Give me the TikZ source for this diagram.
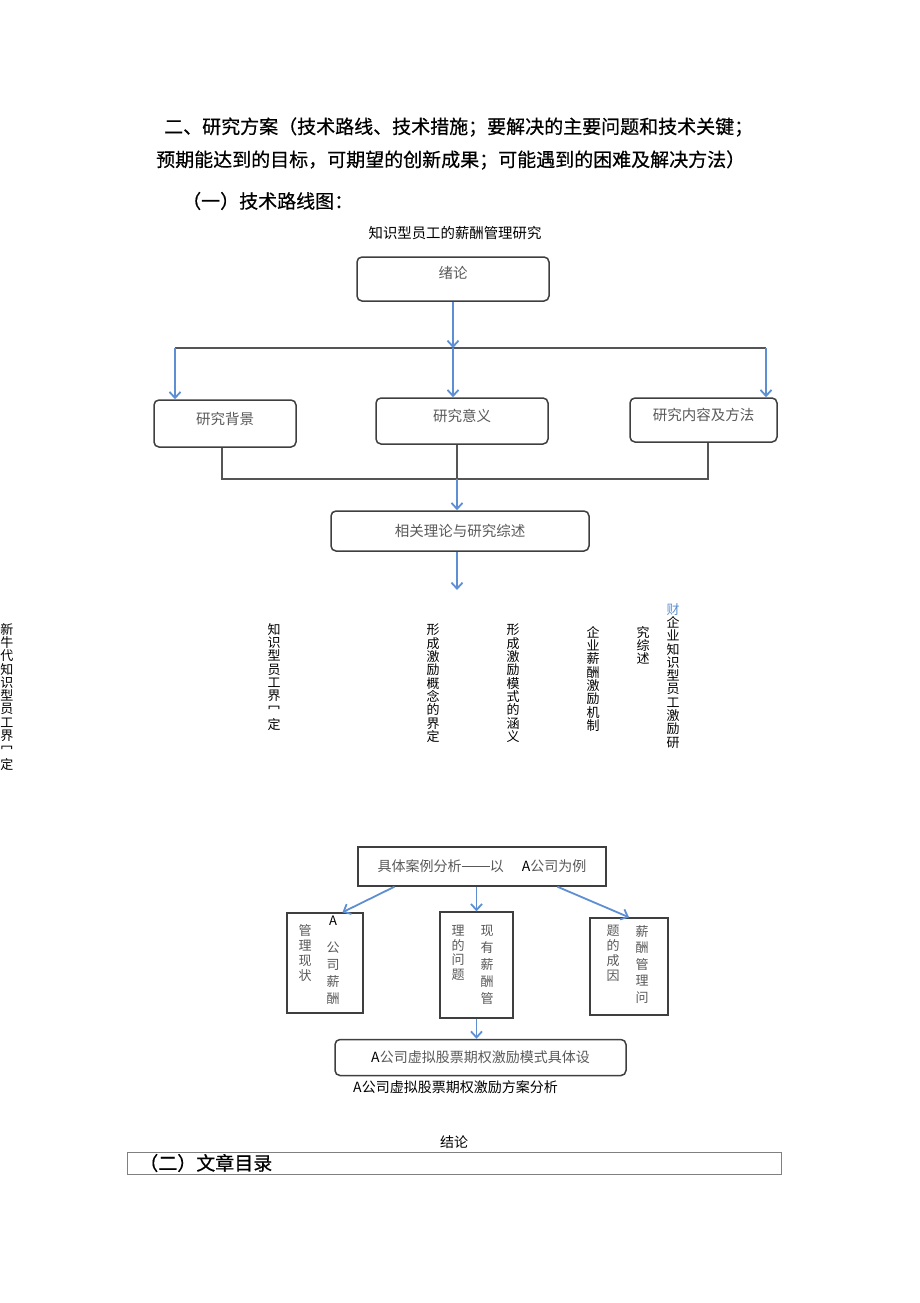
\documentclass[tikz,border=0pt]{standalone}
\usepackage{fontspec}
\setmainfont{Noto Sans CJK SC}
\newfontfamily\headfont[FakeBold=0.5]{Noto Sans CJK SC}
\usetikzlibrary{arrows.meta}

\definecolor{arrowblue}{HTML}{5E8FD2}
\definecolor{boxgray}{HTML}{3F3F3F}
\definecolor{textgray}{HTML}{5A5A5A}
\definecolor{linegray}{HTML}{555555}

\begin{document}
\begin{tikzpicture}[x=1pt,y=-1pt,
    roundbox/.style={draw=boxgray, line width=1.5pt, rounded corners=5pt, inner sep=0pt,
                     text=textgray, font=\fontsize{14.5}{16}\selectfont},
    plainbox/.style={draw=boxgray, line width=1.4pt, inner sep=0pt,
                     text=textgray, font=\fontsize{14}{16}\selectfont},
    bluearrow/.style={draw=arrowblue, line width=1.8pt, -{Straight Barb[length=6pt,width=11pt]}},
    busline/.style={draw=linegray, line width=1.8pt},
    head/.style={anchor=west, inner sep=0pt, font=\headfont\fontsize{19}{20}\selectfont},
    vcol/.style={anchor=north, align=center, inner sep=0pt, font=\fontsize{13}{#1}\selectfont},
    vcol/.default=13.3,
    incol/.style={vcol=#1, text=textgray}]

    \fill[white] (0,0) rectangle (920,1303);
    \useasboundingbox (0,0) rectangle (920,1303);

    % heading lines
    \node[head] (line1) at (164,127) {二、研究方案（技术路线、技术措施；要解决的主要问题和技术关键；};
    \node[head] (line2) at (156,160) {预期能达到的目标，可期望的创新成果；可能遇到的困难及解决方法）};
    \node[head] (line3) at (182,201) {（一）技术路线图：};
    \node[font=\fontsize{14.4}{16}\selectfont] (title) at (455,233) {知识型员工的薪酬管理研究};

    % first level
    \node[roundbox, minimum width=192, minimum height=44, text depth=13pt] (intro) at (453,279) {绪论};
    \node[roundbox, minimum width=142, minimum height=47, text depth=11pt] (bg) at (225,423.5) {研究背景};
    \node[roundbox, minimum width=172, minimum height=46, text depth=11pt] (sig) at (462,421) {研究意义};
    \node[roundbox, minimum width=147, minimum height=44, text depth=11pt] (cont) at (703.5,420) {研究内容及方法};
    \node[roundbox, minimum width=258, minimum height=40] (theory) at (460,531) {相关理论与研究综述};

    \coordinate (busL) at (175,348);
    \coordinate (busT) at (453,348);
    \coordinate (busR) at (766,348);
    \coordinate (lowL) at (222,479);
    \coordinate (lowM) at (457,479);
    \coordinate (lowR) at (708,479);
    \coordinate (theoryEnd) at (457,590);

    \draw[busline] (busL) -- (busR);
    \draw[bluearrow] (intro.south) -- (busT);
    \draw[bluearrow] (busL) -- (busL |- bg.north);
    \draw[bluearrow] (busT) -- (busT |- sig.north);
    \draw[bluearrow] (busR) -- (busR |- cont.north);

    \draw[busline] (bg.south -| lowL) -- (lowL) -- (lowR) -- (cont.south -| lowR);
    \draw[busline] (sig.south -| lowM) -- (lowM);
    \draw[bluearrow] (lowM) -- (lowM |- theory.north);
    \draw[bluearrow] (theory.south -| theoryEnd) -- (theoryEnd);

    % vertical texts
    \node[vcol] (v1) at (7,623) {新\\牛\\代\\知\\识\\型\\员\\工\\界\\冖\\[2pt]定};
    \node[vcol] (v2) at (274,623) {知\\识\\型\\员\\工\\界\\冖\\[2pt]定};
    \node[vcol] (v3) at (433,624) {形\\成\\激\\励\\概\\念\\的\\界\\定};
    \node[vcol] (v4) at (513,624) {形\\成\\激\\励\\模\\式\\的\\涵\\义};
    \node[vcol] (v5) at (593,626) {企\\业\\薪\\酬\\激\\励\\机\\制};
    \node[vcol] (v6) at (643,626) {究\\综\\述};
    \node[vcol] (v7) at (673,603) {{\color{arrowblue}财}\\企\\业\\知\\识\\型\\员\\工\\激\\励\\研};

    % case study
    \node[plainbox, minimum width=248, minimum height=39] (case) at (482,866.5)
        {具体案例分析\rule[0.36em]{2em}{0.6pt}以\hspace{18pt}{\color{black}A}公司为例};
    \node[plainbox, minimum width=76, minimum height=100] (nowbox) at (325,963) {};
    \node[plainbox, minimum width=73, minimum height=106] (probbox) at (476.5,965) {};
    \node[plainbox, minimum width=78, minimum height=97] (causebox) at (629,966.5) {};

    \node[incol=17] (now2) at (333,916) {{\color{black}A}\\[10pt]公\\司\\薪\\酬};
    \node[incol=15] (now1) at (305,924) {管\\理\\现\\状};
    \node[incol=17] (prob2) at (487,925) {现\\有\\薪\\酬\\管};
    \node[incol=14.5] (prob1) at (458,925) {理\\的\\问\\题};
    \node[incol=16.5] (cause2) at (642,925) {薪\\酬\\管\\理\\问};
    \node[incol=15] (cause1) at (613,925) {题\\的\\成\\因};

    \draw[bluearrow] (case.193) -- (nowbox.71);
    \draw[bluearrow] (probbox.north |- case.south) -- (probbox.north);
    \draw[bluearrow] (case.-15.6) -- (causebox.north);

    \node[roundbox, minimum width=291, minimum height=36, font=\fontsize{14}{16}\selectfont] (design) at (480.5,1057.5)
        {{\color{black}A}公司虚拟股票期权激励模式具体设};
    \draw[bluearrow] (probbox.south) -- (probbox.south |- design.north);

    \node[font=\fontsize{14}{16}\selectfont] (plan) at (455.5,1087) {A公司虚拟股票期权激励方案分析};
    \node[font=\fontsize{14}{16}\selectfont] (concl) at (454,1142) {结论};

    \node[draw=gray, line width=0.6pt, anchor=west, minimum width=654, minimum height=22,
          text width=630, inner xsep=12pt, inner ysep=0pt, align=left,
          font=\headfont\fontsize{19}{20}\selectfont] (toc) at (127,1163) {（二）文章目录};
\end{tikzpicture}
\end{document}
